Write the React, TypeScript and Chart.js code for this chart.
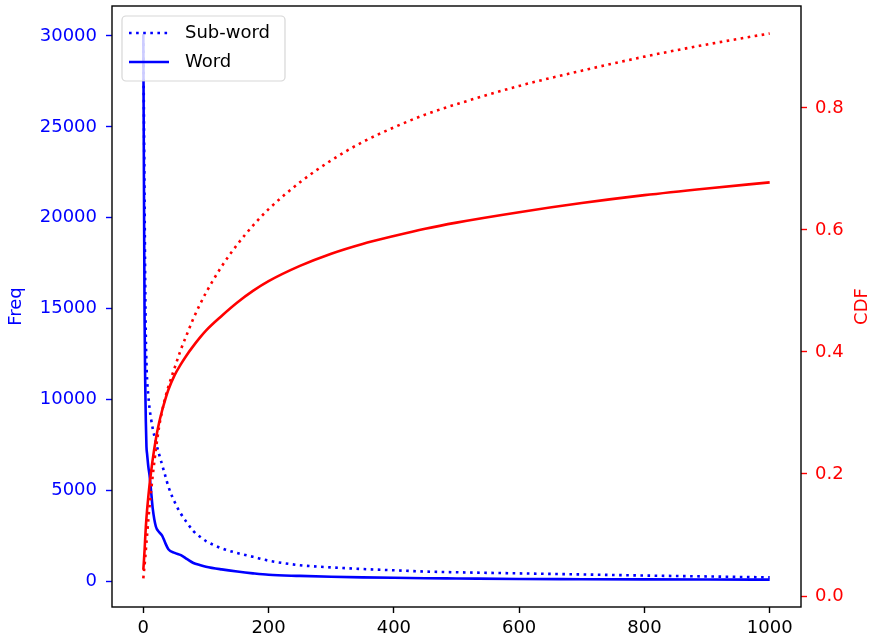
import { useEffect, useRef } from "react";
import { Chart, registerables } from "chart.js";

Chart.register(...registerables);

// rank (x axis)
const ranks = [0, 1, 2, 3, 4, 5, 6, 8, 10, 12, 15, 20, 25, 30, 35, 40, 50, 60, 70, 80, 90, 100, 125, 150, 175, 200, 250, 300, 350, 400, 450, 500, 600, 700, 800, 900, 1000];

// frequencies (left axis)
const subwordFreq = [29600, 25500, 21000, 16500, 13500, 12000, 11100, 10200, 9500, 9000, 8400, 7650, 7000, 6400, 5800, 5200, 4350, 3700, 3200, 2750, 2450, 2200, 1800, 1540, 1330, 1120, 870, 750, 660, 590, 520, 480, 420, 360, 300, 250, 200];
const wordFreq = [30100, 22000, 14500, 11000, 8800, 7400, 7000, 6300, 5800, 5100, 4000, 3000, 2700, 2500, 2100, 1750, 1550, 1420, 1200, 990, 880, 790, 640, 520, 420, 340, 280, 235, 200, 175, 155, 140, 110, 100, 90, 82, 75];

// cumulative distribution (right axis)
const subwordCdf = [0.029, 0.04, 0.05, 0.062, 0.075, 0.088, 0.1, 0.125, 0.148, 0.168, 0.197, 0.24, 0.276, 0.303, 0.325, 0.343, 0.374, 0.404, 0.43, 0.455, 0.477, 0.497, 0.54, 0.576, 0.607, 0.634, 0.678, 0.714, 0.744, 0.768, 0.789, 0.806, 0.836, 0.861, 0.884, 0.904, 0.922];
const wordCdf = [0.043, 0.058, 0.075, 0.095, 0.113, 0.128, 0.141, 0.163, 0.183, 0.2, 0.224, 0.257, 0.283, 0.304, 0.322, 0.338, 0.362, 0.38, 0.396, 0.41, 0.423, 0.435, 0.459, 0.481, 0.5, 0.516, 0.541, 0.561, 0.577, 0.59, 0.602, 0.612, 0.629, 0.644, 0.657, 0.668, 0.678];

const xTicks = [0, 200, 400, 600, 800, 1000];
const freqTicks = [0, 5000, 10000, 15000, 20000, 25000, 30000];
const cdfTicks = [0, 0.2, 0.4, 0.6, 0.8];

const seriesLabels = ["Sub-word", "Word"];
const leftTitle = "Freq";
const rightTitle = "CDF";

const FONT = "'DejaVu Sans', sans-serif";
const FS = 18;
const LW = 2.6;
const DOT = [2.6, 4.5];

const pts = (ys: number[]) => ranks.map((x, i) => ({ x, y: ys[i] }));

const framePlugin = {
  id: "frame",
  afterDatasetsDraw(chart: any) {
    const { ctx, chartArea: a } = chart;
    ctx.save();
    ctx.strokeStyle = "#000";
    ctx.lineWidth = 1.4;
    ctx.strokeRect(a.left, a.top, a.right - a.left, a.bottom - a.top);
    ctx.restore();
  },
  afterDraw(chart: any) {
    const { ctx, chartArea: a } = chart;
    const mid = (a.top + a.bottom) / 2;
    ctx.save();
    ctx.font = `${FS}px ${FONT}`;
    ctx.textAlign = "center";
    ctx.textBaseline = "middle";
    ctx.fillStyle = "blue";
    ctx.save();
    ctx.translate(16, mid);
    ctx.rotate(-Math.PI / 2);
    ctx.fillText(leftTitle, 0, 0);
    ctx.restore();
    ctx.fillStyle = "red";
    ctx.save();
    ctx.translate(862, mid);
    ctx.rotate(-Math.PI / 2);
    ctx.fillText(rightTitle, 0, 0);
    ctx.restore();

    // legend
    const bx = a.left + 10, by = a.top + 10, bw = 163, bh = 65, r = 4;
    ctx.beginPath();
    ctx.moveTo(bx + r, by);
    ctx.lineTo(bx + bw - r, by);
    ctx.arcTo(bx + bw, by, bx + bw, by + r, r);
    ctx.lineTo(bx + bw, by + bh - r);
    ctx.arcTo(bx + bw, by + bh, bx + bw - r, by + bh, r);
    ctx.lineTo(bx + r, by + bh);
    ctx.arcTo(bx, by + bh, bx, by + bh - r, r);
    ctx.lineTo(bx, by + r);
    ctx.arcTo(bx, by, bx + r, by, r);
    ctx.closePath();
    ctx.fillStyle = "rgba(255,255,255,0.8)";
    ctx.fill();
    ctx.strokeStyle = "rgba(204,204,204,0.8)";
    ctx.lineWidth = 1.2;
    ctx.stroke();

    const rows = [by + 17, by + 46];
    [0, 1].forEach((i) => {
      ctx.beginPath();
      ctx.strokeStyle = "blue";
      ctx.lineWidth = LW;
      ctx.setLineDash(i === 0 ? DOT : []);
      ctx.moveTo(bx + 7, rows[i]);
      ctx.lineTo(bx + 47, rows[i]);
      ctx.stroke();
      ctx.setLineDash([]);
      ctx.fillStyle = "#000";
      ctx.textAlign = "left";
      ctx.fillText(seriesLabels[i], bx + 63, rows[i]);
    });
    ctx.restore();
  },
};

export default function App() {
  const ref = useRef<HTMLCanvasElement | null>(null);
  useEffect(() => {
    if (!ref.current) return;
    const chart = new Chart(ref.current, {
      type: "line",
      data: {
        datasets: [
          { label: seriesLabels[0], data: pts(subwordFreq), yAxisID: "y", borderColor: "blue", borderWidth: LW, borderDash: DOT, borderCapStyle: "butt", pointRadius: 0, cubicInterpolationMode: "monotone", order: 2 },
          { label: seriesLabels[1], data: pts(wordFreq), yAxisID: "y", borderColor: "blue", borderWidth: LW, pointRadius: 0, cubicInterpolationMode: "monotone", order: 1 },
          { label: seriesLabels[0] + " CDF", data: pts(subwordCdf), yAxisID: "y1", borderColor: "red", borderWidth: LW, borderDash: DOT, borderCapStyle: "butt", pointRadius: 0, cubicInterpolationMode: "monotone", order: 0 },
          { label: seriesLabels[1] + " CDF", data: pts(wordCdf), yAxisID: "y1", borderColor: "red", borderWidth: LW, pointRadius: 0, cubicInterpolationMode: "monotone", order: -1 },
        ],
      },
      options: {
        animation: false,
        responsive: false,
        events: [],
        layout: { padding: { top: 6, left: 0, right: 0, bottom: 0 } },
        plugins: { legend: { display: false }, tooltip: { enabled: false } },
        scales: {
          x: {
            type: "linear",
            min: -50,
            max: 1050,
            afterBuildTicks: (s: any) => { s.ticks = xTicks.map((v) => ({ value: v })); },
            afterFit: (s: any) => { s.height = 31; s.paddingLeft = 0; s.paddingRight = 0; },
            grid: { drawOnChartArea: false, drawTicks: true, tickLength: 6, tickWidth: 1.4, tickColor: "#000" },
            border: { display: false },
            ticks: { color: "#000", font: { family: FONT, size: FS }, padding: 5, maxRotation: 0, autoSkip: false, callback: (v: any) => String(v) },
          },
          y: {
            type: "linear",
            position: "left",
            min: -1431,
            max: 31651,
            afterBuildTicks: (s: any) => { s.ticks = freqTicks.map((v) => ({ value: v })); },
            afterFit: (s: any) => { s.width = 112; s.paddingTop = 0; s.paddingBottom = 0; },
            grid: { drawOnChartArea: false, drawTicks: true, tickLength: 6, tickWidth: 1.4, tickColor: "blue" },
            border: { display: false },
            ticks: { color: "blue", font: { family: FONT, size: FS }, padding: 9, autoSkip: false, callback: (v: any) => String(v) },
          },
          y1: {
            type: "linear",
            position: "right",
            min: -0.018,
            max: 0.967,
            afterBuildTicks: (s: any) => { s.ticks = cdfTicks.map((v) => ({ value: v })); },
            afterFit: (s: any) => { s.width = 71; s.paddingTop = 0; s.paddingBottom = 0; },
            grid: { drawOnChartArea: false, drawTicks: true, tickLength: 6, tickWidth: 1.4, tickColor: "red" },
            border: { display: false },
            ticks: { color: "red", font: { family: FONT, size: FS }, padding: 8, autoSkip: false, callback: (v: any) => Number(v).toFixed(1) },
          },
        },
      },
      plugins: [framePlugin],
    } as any);
    return () => chart.destroy();
  }, []);
  return (
    <div style={{ position: "fixed", left: 0, top: 0, width: 872, height: 638, background: "#fff" }}>
      <canvas ref={ref} width={872} height={638} style={{ width: 872, height: 638, display: "block" }} />
    </div>
  );
}
